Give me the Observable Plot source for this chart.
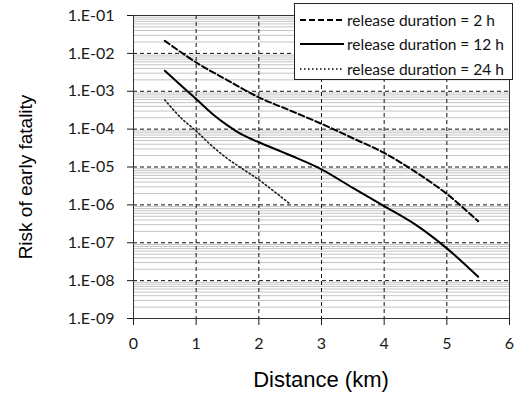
<!DOCTYPE html>
<html>
<head>
<meta charset="utf-8">
<script src="https://cdn.jsdelivr.net/npm/d3@7"></script>
<script src="https://cdn.jsdelivr.net/npm/@observablehq/plot@0.6"></script>
<style>
  html, body { margin: 0; padding: 0; background: #fff; }
  #wrap { position: relative; width: 516px; height: 397px; overflow: hidden; }
  #legend { position: absolute; left: 294px; top: 3px; width: 219px; height: 77px; box-sizing: border-box;
    background: #fff; border: 1px solid #222; font-family: Lato, "Open Sans", sans-serif; font-size: 15.5px; color: #111; }
  #legend .row { position: absolute; left: 0; height: 20px; display: flex; align-items: center; white-space: nowrap; }
  #legend svg { margin-left: 5px; margin-right: 3px; }
  .title { position: absolute; font-family: "Liberation Sans", Arial, sans-serif; color: #000; white-space: nowrap; }
  #xtitle { left: 321px; top: 380px; font-size: 22px; transform: translate(-50%, -50%); }
  #ytitle { left: 26px; top: 177px; font-size: 19px; transform: translate(-50%, -50%) rotate(-90deg); }
</style>
</head>
<body>
<div id="wrap"><div id="chart"></div><div id="legend"></div><div id="xtitle" class="title"></div><div id="ytitle" class="title"></div></div>
<script>
// --- data ---
const dist2h  = [0.5, 1, 1.5, 2, 2.5, 3, 3.5, 4, 4.5, 5, 5.5];
const risk2h  = [2.14e-2, 5.75e-3, 1.95e-3, 6.9e-4, 3.1e-4, 1.38e-4, 5.75e-5, 2.35e-5, 7.4e-6, 1.95e-6, 3.7e-7];
const dist12h = [0.5, 1, 1.25, 1.5, 1.75, 2, 2.5, 3, 3.5, 4, 4.5, 5, 5.5];
const risk12h = [3.47e-3, 6.2e-4, 2.6e-4, 1.26e-4, 6.9e-5, 4.5e-5, 2.04e-5, 8.7e-6, 2.8e-6, 9.3e-7, 3.0e-7, 7.1e-8, 1.26e-8];
const dist24h = [0.5, 0.75, 1, 1.25, 1.5, 1.75, 2, 2.5];
const risk24h = [5.9e-4, 2.04e-4, 8.9e-5, 3.6e-5, 1.66e-5, 8.7e-6, 4.6e-6, 1.05e-6];
const seriesNames = ["release duration = 2 h", "release duration = 12 h", "release duration = 24 h"];
const xTicks = [0, 1, 2, 3, 4, 5, 6];
const yTicks = [1e-1, 1e-2, 1e-3, 1e-4, 1e-5, 1e-6, 1e-7, 1e-8, 1e-9];
const minorMultiples = [2, 3, 4, 5, 6, 7, 8, 9];
const xTitle = "Distance (km)";
const yTitle = "Risk of early fatality";

const mk = (d, r) => d.map((x, i) => ({x, y: r[i]}));
const s2 = mk(dist2h, risk2h), s12 = mk(dist12h, risk12h), s24 = mk(dist24h, risk24h);
const minorTicks = yTicks.slice(1).flatMap(t => minorMultiples.map(m => t * m));
const yFmt = d => "1.E-" + String(-Math.round(Math.log10(d))).padStart(2, "0");
const xFmt = d => String(d);

const chart = Plot.plot({
  width: 516, height: 397,
  marginLeft: 133, marginRight: 7, marginTop: 15, marginBottom: 79,
  style: {fontFamily: "Lato, 'Open Sans', sans-serif", fontSize: "16px", color: "#1a1a1a", background: "#fff"},
  x: {domain: [0, 6], label: null},
  y: {type: "log", domain: [1e-9, 1e-1], label: null},
  marks: [
    Plot.ruleY(minorTicks, {stroke: "#c4c4c4", strokeWidth: 1}),
    Plot.ruleY(yTicks.slice(1, -1), {stroke: "#111", strokeDasharray: "4,3", strokeWidth: 1}),
    Plot.ruleX(xTicks.slice(1, -1), {stroke: "#111", strokeDasharray: "4,3", strokeWidth: 1}),
    Plot.frame({stroke: "#333"}),
    Plot.line(s2, {x: "x", y: "y", stroke: "#000", strokeWidth: 2, strokeDasharray: "6,3", curve: "catmull-rom"}),
    Plot.line(s12, {x: "x", y: "y", stroke: "#000", strokeWidth: 2, curve: "catmull-rom"}),
    Plot.line(s24, {x: "x", y: "y", stroke: "#222", strokeWidth: 1.6, strokeDasharray: "1.5,2.5", curve: "catmull-rom"}),
    Plot.axisX({ticks: xTicks, tickFormat: xFmt, tickSize: 7, tickPadding: 12, fontSize: 16, label: null}),
    Plot.axisY({ticks: yTicks, tickFormat: yFmt, tickSize: 6, tickPadding: 13, fontSize: 16, label: null})
  ]
});
document.getElementById("chart").append(chart);
document.getElementById("xtitle").textContent = xTitle;
document.getElementById("ytitle").textContent = yTitle;

// legend
const legend = document.getElementById("legend");
const styles = [
  {dash: "6,3", w: 2},
  {dash: null, w: 2},
  {dash: "1.5,2.5", w: 1.6}
];
const rowTops = [6, 30, 55];
seriesNames.forEach((name, i) => {
  const row = document.createElement("div");
  row.className = "row";
  row.style.top = rowTops[i] + "px";
  const st = styles[i];
  row.innerHTML = `<svg width="44" height="10"><line x1="0" x2="44" y1="5" y2="5" stroke="#000" stroke-width="${st.w}" ${st.dash ? `stroke-dasharray="${st.dash}"` : ""}/></svg><span>${name}</span>`;
  legend.append(row);
});
</script>
</body>
</html>
